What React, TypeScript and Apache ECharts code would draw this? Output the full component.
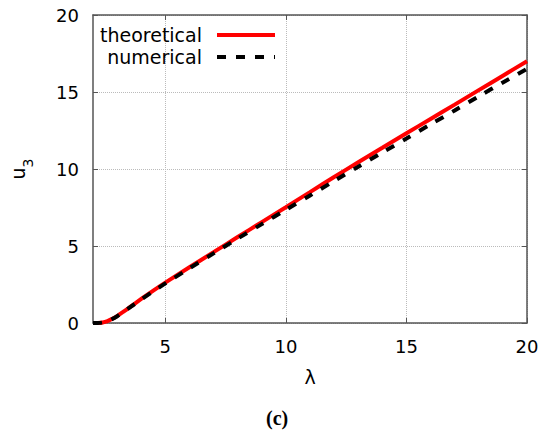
import React, { useEffect, useRef } from "react";
import * as echarts from "echarts";

const lambda = [2, 2.2, 2.4, 2.6, 2.8, 3, 3.25, 3.5, 4, 4.5, 5, 6, 7, 8, 9, 10, 11, 12, 13, 14, 15, 16, 17, 18, 19, 20];
const theoretical = [0, 0, 0.03, 0.12, 0.27, 0.45, 0.72, 1.0, 1.56, 2.1, 2.62, 3.62, 4.6, 5.58, 6.55, 7.52, 8.5, 9.48, 10.44, 11.38, 12.32, 13.25, 14.18, 15.12, 16.06, 17.0];
const numerical = [0, 0, 0.03, 0.11, 0.26, 0.44, 0.7, 0.98, 1.53, 2.06, 2.57, 3.55, 4.52, 5.48, 6.42, 7.35, 8.28, 9.22, 10.15, 11.07, 11.98, 12.9, 13.8, 14.72, 15.62, 16.5];
const seriesNames = ["theoretical", "numerical"];
const xRange = { min: 2, max: 20 };
const xTickValues = [5, 10, 15, 20];
const yTicks = { min: 0, max: 20, interval: 5 };

const FONT = "DejaVu Sans";
const AXIS_COLOR = "#555";

export default function App() {
  const ref = useRef<HTMLDivElement>(null);
  useEffect(() => {
    document.body.style.margin = "0";
    const chart = echarts.init(ref.current!, null, { renderer: "svg" });
    const gridLine = { show: true, lineStyle: { type: "dotted", color: "#bbb", width: 1 } };
    const baseX = {
      type: "value",
      min: xRange.min,
      max: xRange.max,
      axisLine: { show: true, onZero: false, lineStyle: { color: AXIS_COLOR, width: 1.5 } },
      axisTick: { show: true, inside: true, length: 5, customValues: xTickValues, lineStyle: { color: AXIS_COLOR } },
    };
    const baseY = {
      type: "value",
      min: yTicks.min,
      max: yTicks.max,
      interval: yTicks.interval,
      axisLine: { show: true, onZero: false, lineStyle: { color: AXIS_COLOR, width: 1.5 } },
      axisTick: { show: true, inside: true, length: 5, lineStyle: { color: AXIS_COLOR } },
    };
    chart.setOption({
      animation: false,
      textStyle: { fontFamily: FONT },
      title: {
        text: "(c)",
        left: 266,
        top: 408,
        padding: 0,
        textStyle: { fontFamily: "Liberation Serif", fontSize: 20, fontWeight: "bold", color: "#000", lineHeight: 20 },
      },
      grid: { left: 88, right: 23, top: 15, bottom: 110 },
      legend: {
        orient: "vertical",
        left: 92,
        top: 20,
        align: "right",
        itemWidth: 58,
        itemHeight: 14,
        itemGap: 2,
        itemStyle: { opacity: 0 },
        lineStyle: { width: 4 },
        data: seriesNames,
        textStyle: {
          fontFamily: FONT,
          fontSize: 19,
          color: "#000",
          width: 105,
          align: "right",
          overflow: "none",
          lineHeight: 20,
          padding: [0, 10, 0, 0],
        },
      },
      xAxis: [
        {
          ...baseX,
          position: "bottom",
          name: "λ",
          nameLocation: "middle",
          nameGap: 44,
          nameTextStyle: { fontFamily: FONT, fontSize: 19, color: "#000" },
          axisLabel: { fontFamily: FONT, fontSize: 18, color: "#000", margin: 14, customValues: xTickValues },
          splitLine: gridLine,
        },
        {
          ...baseX,
          position: "top",
          axisLabel: { show: false },
          splitLine: { show: false },
        },
      ],
      yAxis: [
        {
          ...baseY,
          position: "left",
          name: "{u|u}{s|3}",
          nameLocation: "middle",
          nameGap: 66,
          nameRotate: 90,
          nameTextStyle: {
            fontFamily: FONT,
            color: "#000",
            rich: {
              u: { fontFamily: FONT, fontSize: 19, color: "#000", lineHeight: 24, verticalAlign: "bottom" },
              s: { fontFamily: FONT, fontSize: 14, color: "#000", lineHeight: 24, verticalAlign: "bottom", padding: [0, 0, -8, 0] },
            },
          },
          axisLabel: { fontFamily: FONT, fontSize: 18, color: "#000", margin: 14 },
          splitLine: gridLine,
        },
        {
          ...baseY,
          position: "right",
          axisLabel: { show: false },
          splitLine: { show: false },
        },
      ],
      series: [
        {
          name: seriesNames[0],
          type: "line",
          xAxisIndex: 0,
          yAxisIndex: 0,
          symbol: "none",
          smooth: 0.3,
          data: lambda.map((x, i) => [x, theoretical[i]]),
          lineStyle: { color: "#ff0000", width: 4 },
          itemStyle: { color: "#ff0000" },
        },
        {
          name: seriesNames[1],
          type: "line",
          xAxisIndex: 0,
          yAxisIndex: 0,
          symbol: "none",
          smooth: 0.3,
          data: lambda.map((x, i) => [x, numerical[i]]),
          lineStyle: { color: "#000", width: 4, type: [9, 10] },
          itemStyle: { color: "#000" },
        },
      ],
    });
    return () => chart.dispose();
  }, []);
  return <div ref={ref} style={{ position: "absolute", left: 0, top: 0, width: 550, height: 433 }} />;
}
